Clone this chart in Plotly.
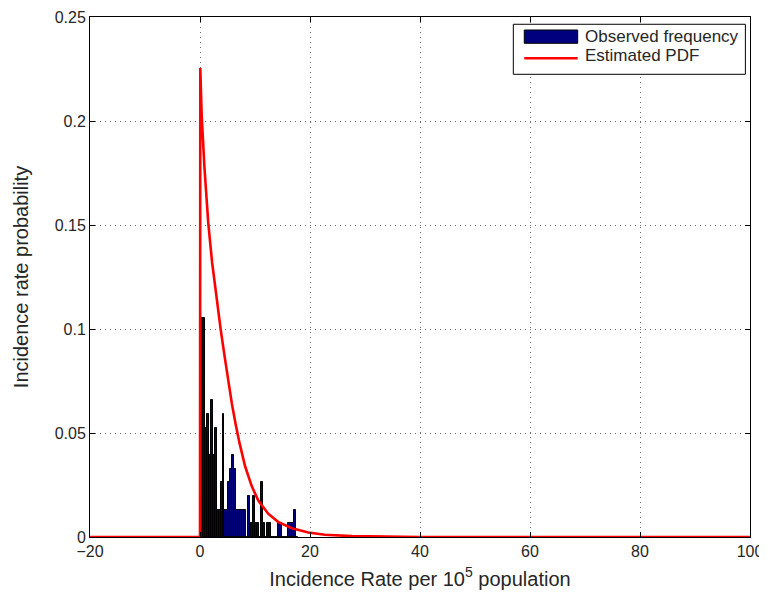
import plotly.graph_objects as go

# ---- data ----
N_OBS = 152
bin_start = 0.25
bin_width = 0.35
bin_counts = [16, 16, 8, 9, 6, 10, 6, 8, 2, 2,
              4, 9, 2, 2, 4, 5, 6, 5, 2, 2,
              2, 2, 2, 0, 3, 1, 1, 3, 1, 1,
              0, 4, 1, 0, 1, 1, 0, 0, 0, 0,
              1, 1, 0, 0, 0, 1, 1, 1, 2, 0]
obs_freq = [c / N_OBS for c in bin_counts]
bin_centers = [bin_start + bin_width * (i + 0.5) for i in range(len(bin_counts))]

pdf_x = [-20, 0, 0.05, 0.3, 0.8, 1.5, 2.2, 3.0, 3.8, 4.55, 5.2, 5.8, 6.5, 7.2,
         8.2, 9.4, 10.6, 12.4, 14.2, 16.7, 19.7, 22.7, 27.6, 33, 40, 100]
pdf_y = [0, 0, 0.2255, 0.203, 0.178, 0.151, 0.132, 0.115, 0.099, 0.0855, 0.074,
         0.064, 0.054, 0.045, 0.034, 0.0245, 0.0175, 0.0112, 0.0073, 0.0042,
         0.0022, 0.0011, 0.0004, 0.0001, 0, 0]

x_ticks = [-20, 0, 20, 40, 60, 80, 100]
y_ticks = [0, 0.05, 0.1, 0.15, 0.2, 0.25]
y_tick_text = ["0", "0.05", "0.1", "0.15", "0.2", "0.25"]

FONT = "Liberation Sans, Arial, Helvetica, sans-serif"
TXT = "#262626"

fig = go.Figure()
fig.add_trace(go.Bar(
    x=bin_centers, y=obs_freq, width=bin_width,
    marker=dict(color="#00007f", line=dict(color="black", width=1)),
    name="Observed frequency", showlegend=False,
))
fig.add_trace(go.Scatter(
    x=pdf_x, y=pdf_y, mode="lines",
    line=dict(color="#ff0000", width=2.6),
    name="Estimated PDF", showlegend=False,
))

axis_common = dict(
    showline=True, linecolor="black", linewidth=1, mirror="ticks",
    ticks="inside", ticklen=5, tickcolor="black",
    showgrid=True, gridcolor="#6e6e6e", gridwidth=1, griddash="1px,4px",
    zeroline=False, automargin=False,
    tickfont=dict(family=FONT, size=16, color=TXT),
)

# the page body adds an 8px offset, so the figure is 8px smaller and margins shifted
fig.update_layout(
    width=759, height=589,
    margin=dict(l=82, r=17, t=9, b=60),
    paper_bgcolor="white", plot_bgcolor="white",
    font=dict(family=FONT, color=TXT),
    bargap=0,
    xaxis=dict(range=[-20, 100], tickvals=x_ticks,
               title=dict(text="Incidence Rate per 10<sup>5</sup> population",
                          font=dict(family=FONT, size=20, color=TXT), standoff=12),
               **axis_common),
    yaxis=dict(range=[0, 0.25], tickvals=y_ticks, ticktext=y_tick_text,
               title=dict(text="Incidence rate probability",
                          font=dict(family=FONT, size=20, color=TXT), standoff=20),
               **axis_common),
)

# custom MATLAB-style legend
shapes = [
    dict(type="rect", xref="paper", yref="paper", x0=0.6414, x1=0.993, y0=0.8898, y1=0.986,
         line=dict(color="black", width=1), fillcolor="white", layer="above"),
    dict(type="rect", xref="paper", yref="paper", x0=0.658, x1=0.7389, y0=0.9494, y1=0.975,
         line=dict(color="black", width=1), fillcolor="#00007f", layer="above"),
    dict(type="line", xref="paper", yref="paper", x0=0.658, x1=0.7389, y0=0.9206, y1=0.9206,
         line=dict(color="#ff0000", width=2.6), layer="above"),
]
fig.update_layout(shapes=shapes)
fig.add_annotation(xref="paper", yref="paper", x=0.7474, y=0.9622, xanchor="left", yanchor="middle",
                   text="Observed frequency", showarrow=False,
                   font=dict(family=FONT, size=17, color=TXT))
fig.add_annotation(xref="paper", yref="paper", x=0.7474, y=0.925, xanchor="left", yanchor="middle",
                   text="Estimated PDF", showarrow=False,
                   font=dict(family=FONT, size=17, color=TXT))

fig.write_html("out.html")
